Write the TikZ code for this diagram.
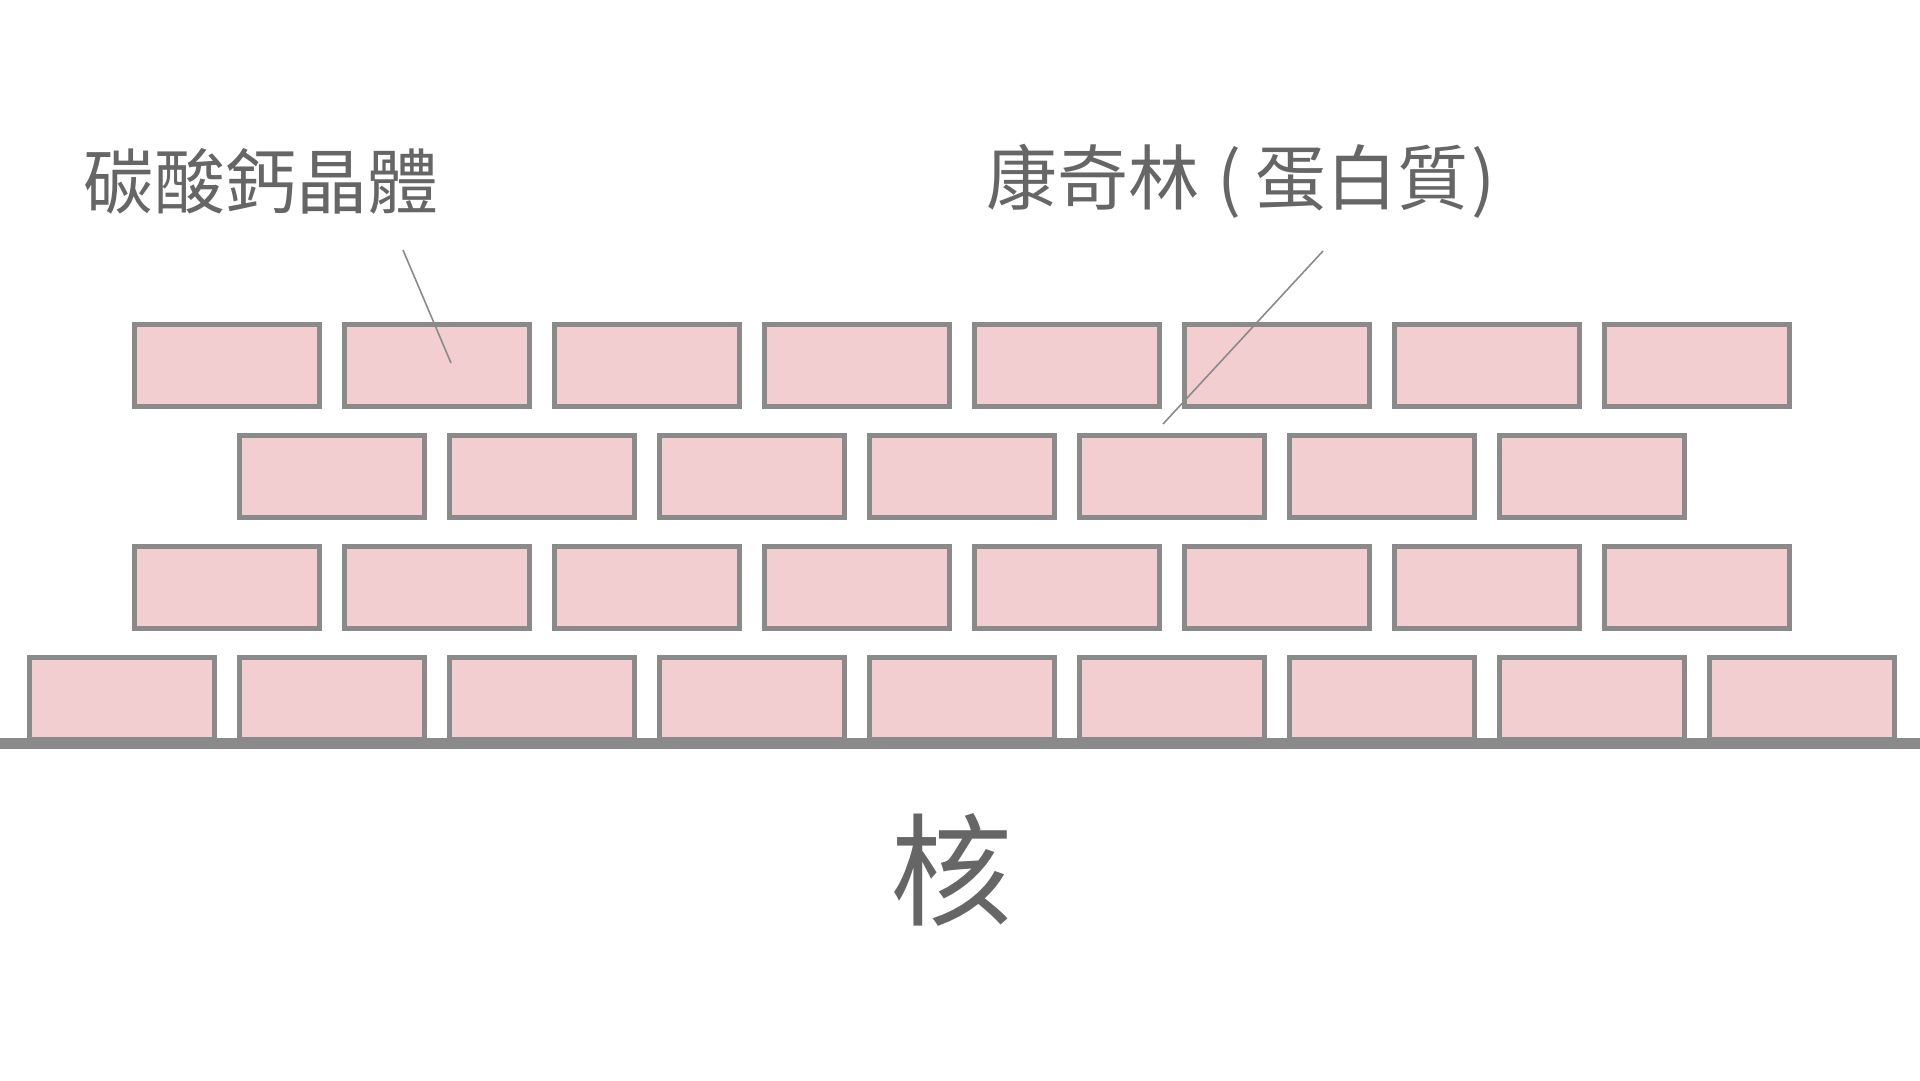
\documentclass[tikz,border=0pt]{standalone}
\usepackage{fontspec}
\newfontfamily\cjk{Noto Sans CJK TC}
\definecolor{brickfill}{HTML}{F3CED0}
\definecolor{brickline}{HTML}{8A8A8A}
\definecolor{textgray}{HTML}{666666}
\begin{document}
\begin{tikzpicture}[x=1pt,y=-1pt,
  brick/.style={draw=brickline, fill=brickfill, line width=5pt,
    minimum width=185pt, minimum height=82pt, inner sep=0pt, outer sep=0pt,
    anchor=north west},
  label text/.style={text=textgray, inner sep=0pt},
  leader/.style={draw=brickline, line width=1.6pt},
  base line/.style={draw=brickline, line width=11pt}]
\useasboundingbox (0,0) rectangle (1920,1080);
% row 1
\foreach \i in {0,...,7}
  \node[brick] (ra\i) at ({134.5+210*\i},324.5) {};
% row 2
\foreach \i in {0,...,6}
  \node[brick] (rb\i) at ({239.5+210*\i},435.5) {};
% row 3
\foreach \i in {0,...,7}
  \node[brick] (rc\i) at ({134.5+210*\i},546.5) {};
% row 4
\foreach \i in {0,...,8}
  \node[brick] (rd\i) at ({29.5+210*\i},657.5) {};
% base line
\coordinate (baseL) at (0,743.5);
\coordinate (baseR) at (1920,743.5);
\draw[base line] (baseL) -- (baseR);
% labels
\node[label text, font=\cjk\fontsize{71}{80}\selectfont] (crystal) at (261,181) {碳酸鈣晶體};
\node[label text, font=\cjk\fontsize{71}{80}\selectfont] (conchiolin) at (1241,181) {康奇林\hspace{0.25em}(\hspace{0.2em}蛋白質\hspace{0.05em})};
\node[label text, font=\cjk\fontsize{122}{130}\selectfont] (core) at (951,870) {核};
% leaders
\coordinate (l1a) at (403,250);
\coordinate (l1b) at (451,363);
\draw[leader] (l1a) -- (l1b);
\coordinate (l2a) at (1323,251);
\coordinate (l2b) at (1163,424);
\draw[leader] (l2a) -- (l2b);
\end{tikzpicture}
\end{document}
